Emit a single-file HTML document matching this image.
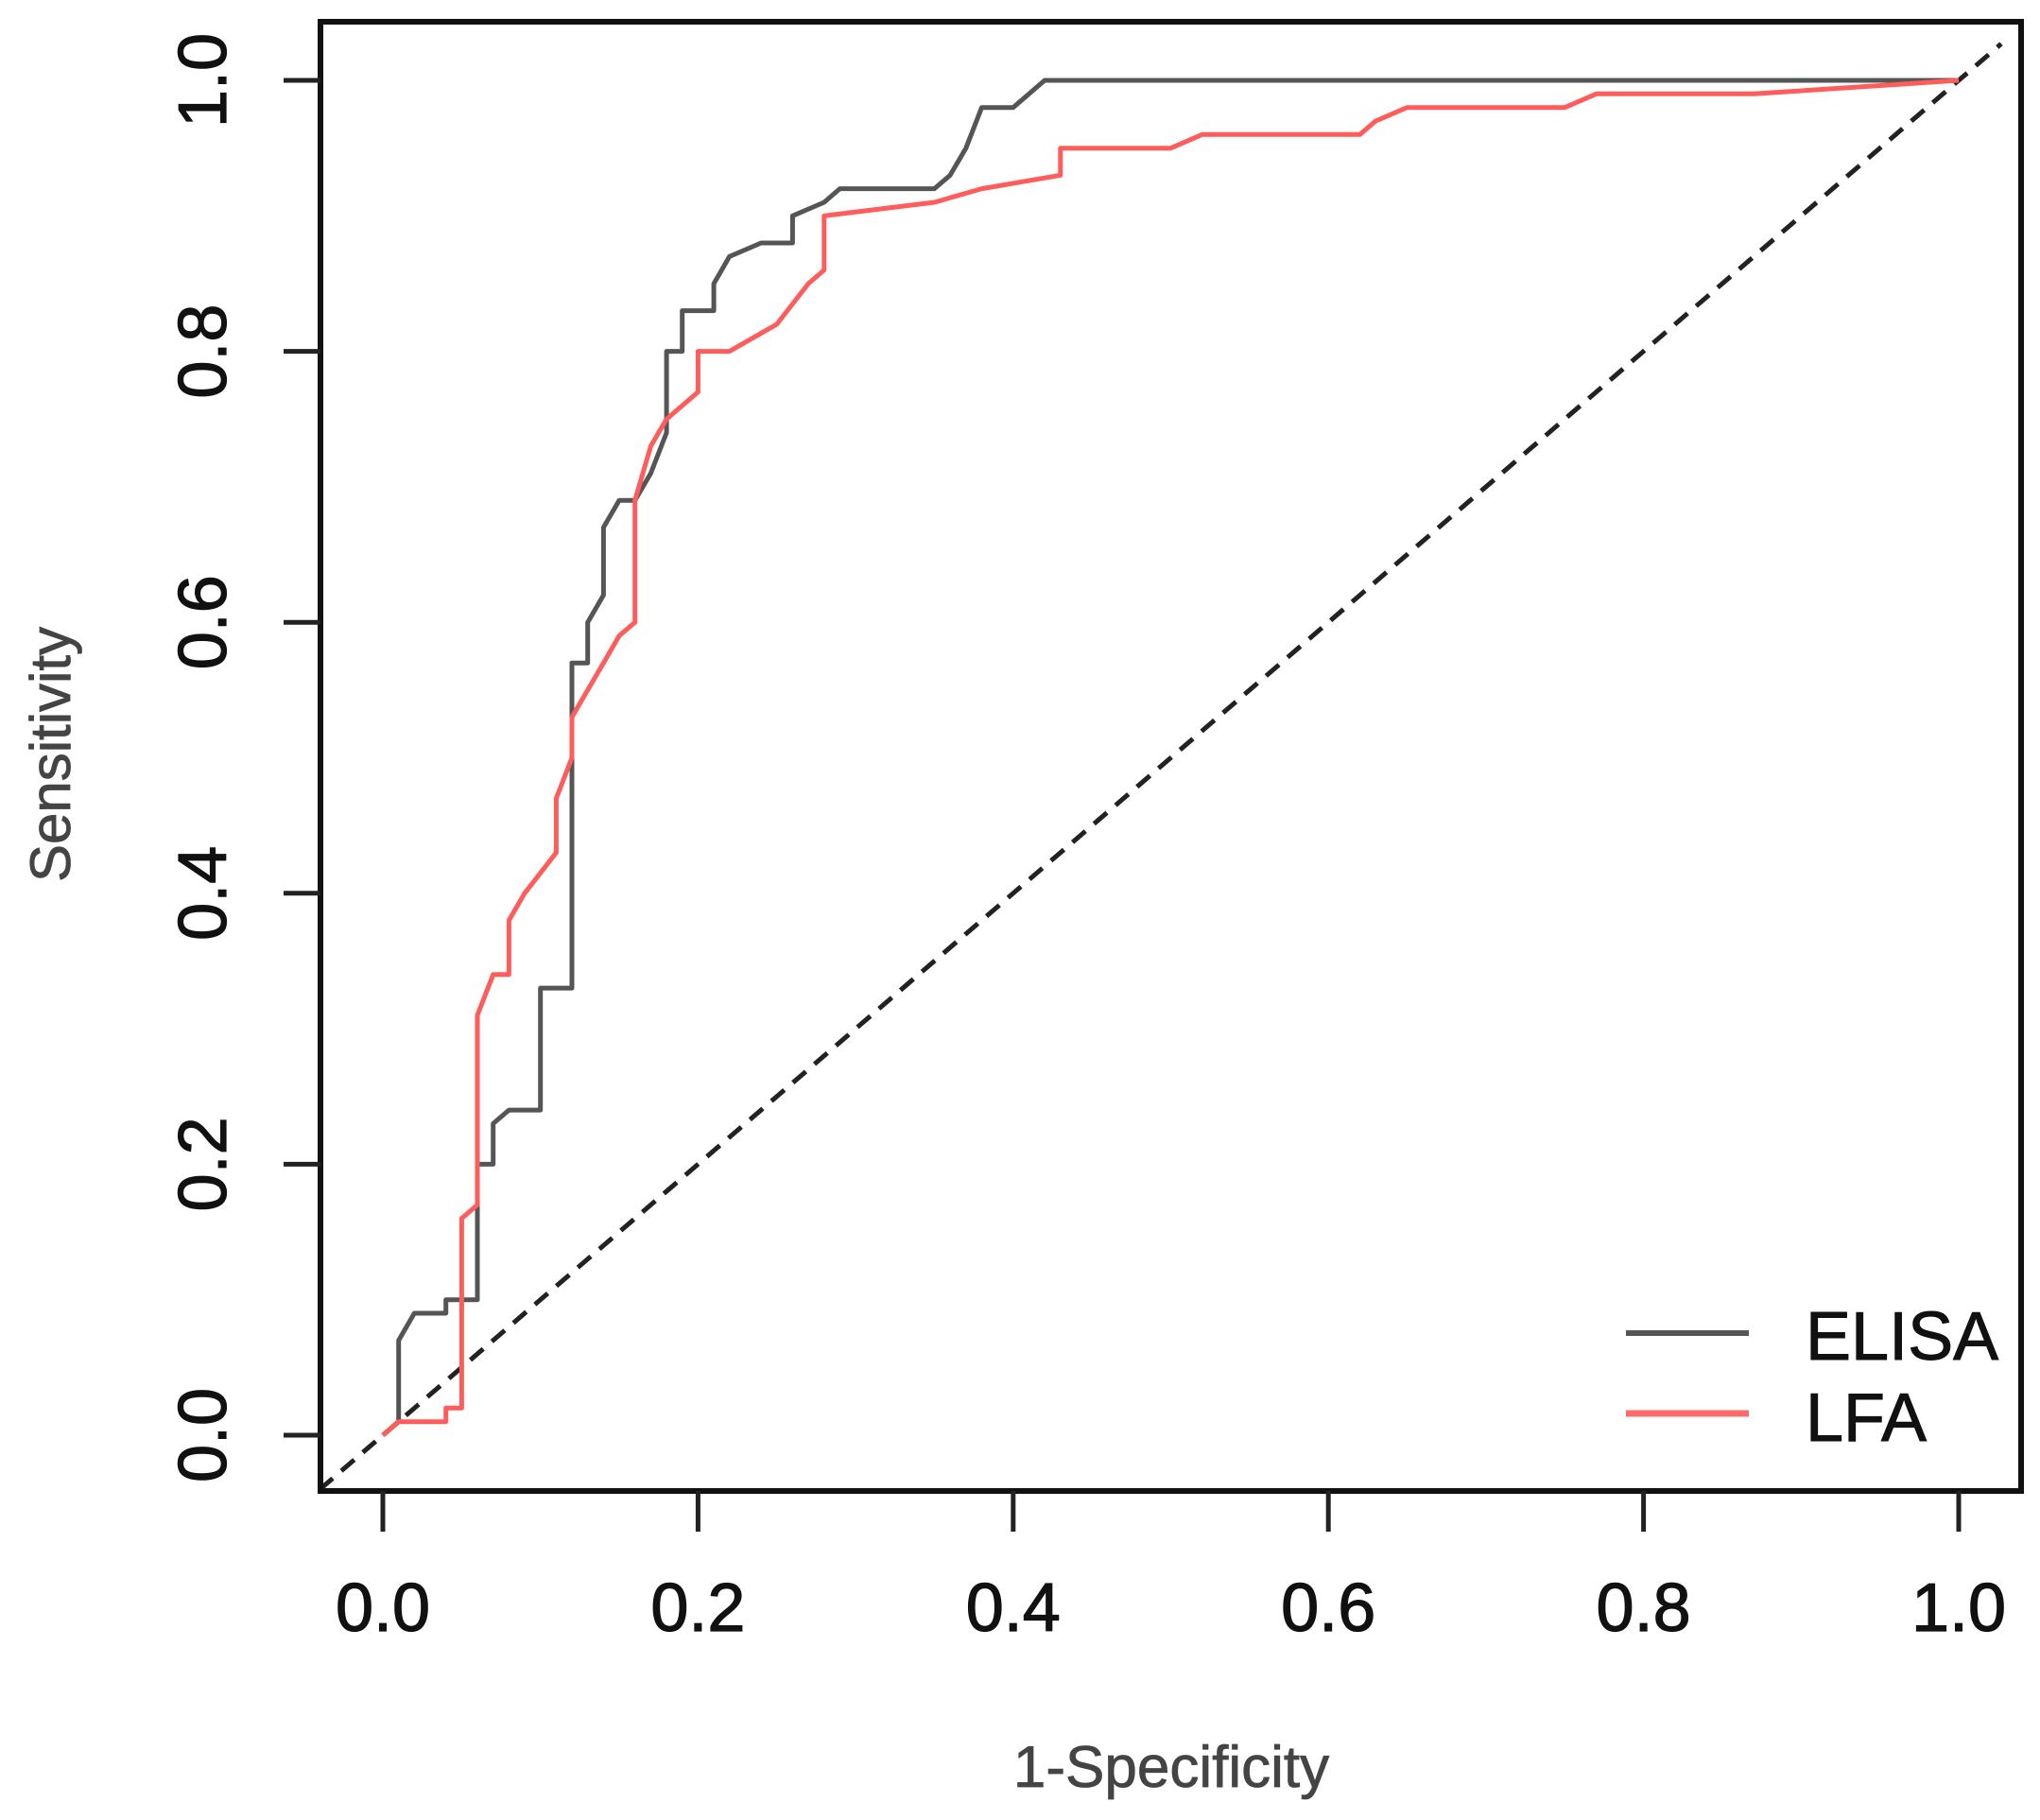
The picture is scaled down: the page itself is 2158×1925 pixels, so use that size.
<!DOCTYPE html>
<html><head><meta charset="utf-8"><style>
html,body{margin:0;padding:0;background:#fff;}
svg{display:block;font-family:"Liberation Sans",Arial,sans-serif;}
</style></head><body>
<svg id="chart" width="2158" height="1925" viewBox="0 0 2158 1925" xmlns="http://www.w3.org/2000/svg">
<rect x="0" y="0" width="2158" height="1925" fill="#fff"/>
<g id="marks"></g>
<rect x="339" y="23" width="1799" height="1554" fill="none" stroke="#111" stroke-width="6"/>
<g id="axes"></g>
<text x="0" y="0" transform="translate(74,798) rotate(-90)" text-anchor="middle" font-size="60" fill="#444" stroke="#444" stroke-width="0.8">Sensitivity</text>
<text x="1239" y="1890" text-anchor="middle" font-size="62" fill="#444" stroke="#444" stroke-width="0.8">1-Specificity</text>
<g>
<line x1="1720" y1="1410" x2="1850" y2="1410" stroke="#555" stroke-width="6"/>
<line x1="1720" y1="1495" x2="1850" y2="1495" stroke="#ff6b6b" stroke-width="7"/>
<text x="1910" y="1438" font-size="72" fill="#111" stroke="#111" stroke-width="1">ELISA</text>
<text x="1910" y="1524" font-size="72" fill="#111" stroke="#111" stroke-width="1">LFA</text>
</g>
</svg>
<script>
const xTicks = [0, 0.2, 0.4, 0.6, 0.8, 1.0];
const yTicks = [0, 0.2, 0.4, 0.6, 0.8, 1.0];
const tickLabels = ["0.0", "0.2", "0.4", "0.6", "0.8", "1.0"];
const elisaFpr = [0,0.01,0.01,0.02,0.04,0.04,0.06,0.06,0.07,0.07,0.08,0.10,0.10,0.12,0.12,0.13,0.13,0.14,0.14,0.15,0.16,0.17,0.18,0.18,0.19,0.19,0.21,0.21,0.22,0.24,0.26,0.26,0.28,0.29,0.35,0.36,0.37,0.38,0.40,0.42,1];
const elisaTpr = [0,0.01,0.07,0.09,0.09,0.10,0.10,0.20,0.20,0.23,0.24,0.24,0.33,0.33,0.57,0.57,0.60,0.62,0.67,0.69,0.69,0.71,0.74,0.80,0.80,0.83,0.83,0.85,0.87,0.88,0.88,0.90,0.91,0.92,0.92,0.93,0.95,0.98,0.98,1.0,1];
const lfaFpr = [0,0.01,0.04,0.04,0.05,0.05,0.06,0.06,0.07,0.08,0.08,0.09,0.11,0.11,0.12,0.12,0.14,0.15,0.16,0.16,0.17,0.18,0.20,0.20,0.22,0.25,0.27,0.28,0.28,0.35,0.38,0.43,0.43,0.50,0.52,0.62,0.63,0.65,0.75,0.77,0.87,1];
const lfaTpr = [0,0.01,0.01,0.02,0.02,0.16,0.17,0.31,0.34,0.34,0.38,0.40,0.43,0.47,0.50,0.53,0.57,0.59,0.60,0.69,0.73,0.75,0.77,0.80,0.80,0.82,0.85,0.86,0.90,0.91,0.92,0.93,0.95,0.95,0.96,0.96,0.97,0.98,0.98,0.99,0.99,1];

const X0 = 405, X1 = 2072, Y0 = 1518, Y1 = 85;
function sx(v){ return X0 + v * (X1 - X0); }
function sy(v){ return Y0 - v * (Y0 - Y1); }
const NS = "http://www.w3.org/2000/svg";
const marks = document.getElementById('marks');
const axes = document.getElementById('axes');

const diag = document.createElementNS(NS, 'line');


diag.setAttribute('x1', sx(-0.04)); diag.setAttribute('y1', sy(-0.04));
diag.setAttribute('x2', sx(1.027)); diag.setAttribute('y2', sy(1.027));
diag.setAttribute('stroke', '#222'); diag.setAttribute('stroke-width', '5');
diag.setAttribute('stroke-dasharray', '18 12');
marks.appendChild(diag);

function series(xs, ys, color, w, name){
  const p = document.createElementNS(NS, 'polyline');
  
  
  p.setAttribute('points', xs.map((x,i)=> sx(x).toFixed(1)+','+sy(ys[i]).toFixed(1)).join(' '));
  p.setAttribute('fill', 'none'); p.setAttribute('stroke', color);
  p.setAttribute('stroke-width', w); p.setAttribute('stroke-linejoin', 'round');
  marks.appendChild(p);
}
series(elisaFpr, elisaTpr, '#555', 5, 'elisa-curve');
series(lfaFpr, lfaTpr, '#ff5c5c', 5, 'lfa-curve');

xTicks.forEach((v,i)=>{
  const t = document.createElementNS(NS, 'line');
  
  
  t.setAttribute('x1', sx(v)); t.setAttribute('x2', sx(v));
  t.setAttribute('y1', 1577); t.setAttribute('y2', 1620);
  t.setAttribute('stroke', '#222'); t.setAttribute('stroke-width', '5');
  axes.appendChild(t);
  const l = document.createElementNS(NS, 'text');
  
  
  l.setAttribute('x', sx(v)); l.setAttribute('y', 1725);
  l.setAttribute('text-anchor', 'middle'); l.setAttribute('font-size', '72');
  l.setAttribute('fill', '#111'); l.setAttribute('stroke', '#111'); l.setAttribute('stroke-width', '1.2');
  l.textContent = tickLabels[i];
  axes.appendChild(l);
});
yTicks.forEach((v,i)=>{
  const t = document.createElementNS(NS, 'line');
  
  
  t.setAttribute('x1', 300); t.setAttribute('x2', 339);
  t.setAttribute('y1', sy(v)); t.setAttribute('y2', sy(v));
  t.setAttribute('stroke', '#222'); t.setAttribute('stroke-width', '5');
  axes.appendChild(t);
  const l = document.createElementNS(NS, 'text');
  
  
  l.setAttribute('x', 0); l.setAttribute('y', 0);
  l.setAttribute('transform', 'translate(239,' + sy(v) + ') rotate(-90)');
  l.setAttribute('text-anchor', 'middle'); l.setAttribute('font-size', '72');
  l.setAttribute('fill', '#111'); l.setAttribute('stroke', '#111'); l.setAttribute('stroke-width', '1.2');
  l.textContent = tickLabels[i];
  axes.appendChild(l);
});
</script>
</body></html>
